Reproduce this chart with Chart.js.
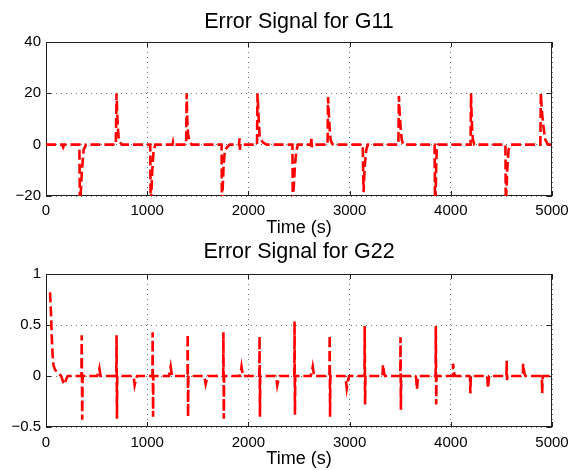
<!DOCTYPE html>
<html>
<head>
<meta charset="utf-8">
<script src="https://cdn.jsdelivr.net/npm/chart.js@4"></script>
<style>
  body { margin: 0; background: #fff; }
  .panel { position: absolute; left: 0; width: 576px; }
  #topPanel { top: 0; height: 242px; }
  #bottomPanel { top: 230px; height: 240px; }
</style>
</head>
<body>
<div class="panel" id="topPanel"><canvas id="g11Chart"></canvas></div>
<div class="panel" id="bottomPanel"><canvas id="g22Chart"></canvas></div>
<script>
// Error signal for G11 (time in s, error value)
const g11Time = [
    0, 160, 170, 180, 330, 336, 342, 355, 372, 395,
    690, 697, 704, 711, 718, 730, 750,
    1030, 1035, 1040, 1050, 1062, 1080,
    1250, 1255, 1260,
    1385, 1390, 1394, 1399, 1404, 1420, 1440,
    1735, 1739, 1743, 1755, 1768, 1790, 1815,
    1908, 1912, 1916, 1920,
    2085, 2090, 2097, 2104, 2112, 2140, 2180,
    2435, 2440, 2443, 2460, 2475, 2490,
    2618, 2622, 2626, 2630,
    2782, 2787, 2795, 2805, 2812, 2825, 2840,
    3130, 3138, 3150, 3165, 3180,
    3482, 3487, 3495, 3505, 3515, 3530,
    3840, 3845, 3850, 3856, 3861, 3875,
    4195, 4200, 4205, 4211, 4218, 4232,
    4540, 4544, 4548, 4560, 4571, 4590,
    4885, 4890, 4898, 4910, 4922, 4934, 4960, 5000
];
const g11Error = [
    0, 0, -1, 0, 0, -30, -20, -10, -2, 0,
    0, 20, 12, 6, 3, 1, 0,
    0, -30, -20, -10, -3, 0,
    0, 1, 0,
    0, 20, 12, 7, 4, 1, 0,
    0, -30, -20, -8, -2, -1, 0,
    0, 2.5, -2, 0,
    0, 20, 14, 8, 3, 1, 0,
    0, -30, -20, -8, -2, 0,
    0, 3, -1, 0,
    0, 18.5, 12, 5, 2, 0.5, 0,
    0, -18.5, -8, -2, 0,
    0, 19, 12, 6, 2, 0,
    0, -30, -20, -8, -2, 0,
    0, 20, 12, 6, 2, 0,
    0, -30, -20, -8, -2, 0,
    0, 20, 14, 9, 5, 2, 0, 0
];

// Error signal for G22
const g22Time = [
    40, 50, 58, 66, 75, 90, 120, 150, 170, 185, 200, 215,
    350, 353, 358, 362,
    505, 520, 528, 538,
    695, 697, 701, 704,
    855, 868, 876, 888, 900,
    1052, 1054, 1058, 1061,
    1215, 1225, 1232, 1245,
    1398, 1400, 1404, 1407,
    1560, 1570, 1578, 1590, 1600,
    1751, 1753, 1757, 1760,
    1915, 1925, 1932, 1945,
    2108, 2110, 2114, 2117,
    2265, 2278, 2285, 2298, 2310,
    2454, 2456, 2460, 2463,
    2615, 2628, 2636, 2650,
    2801, 2803, 2807, 2810,
    2950, 2962, 2972, 2985, 2995,
    3147, 3149, 3153, 3156,
    3325, 3330, 3342, 3350,
    3501, 3503, 3507, 3510,
    3650, 3658, 3665, 3675, 3685,
    3850, 3852, 3856, 3859,
    4020, 4022, 4035, 4045,
    4185, 4190, 4193, 4198,
    4360, 4368, 4378,
    4550, 4552, 4556, 4559,
    4712, 4715, 4728, 4738,
    4895, 4900, 4903, 4908, 5000
];
const g22Error = [
    0.82, 0.6, 0.35, 0.2, 0.1, 0.06, 0.03, 0, -0.06, -0.08, -0.03, 0,
    0, 0.40, -0.43, 0,
    0, 0.03, 0.07, 0,
    0, 0.40, -0.42, 0,
    0, -0.02, -0.09, -0.04, 0,
    0, 0.43, -0.40, 0,
    0, 0.05, 0.09, 0,
    0, 0.41, -0.40, 0,
    0, -0.03, -0.08, -0.03, 0,
    0, 0.43, -0.42, 0,
    0, 0.04, 0.09, 0,
    0, 0.39, -0.40, 0,
    0, -0.03, -0.09, -0.03, 0,
    0, 0.535, -0.38, 0,
    0, 0.04, 0.09, 0,
    0, 0.40, -0.40, 0,
    0, -0.03, -0.12, -0.04, 0,
    0, 0.49, -0.28, 0,
    0, 0.11, 0.02, 0,
    0, 0.38, -0.33, 0,
    0, -0.02, -0.13, -0.03, 0,
    0, 0.49, -0.28, 0,
    0, 0.12, 0.02, 0,
    0, -0.01, -0.17, 0,
    0, -0.12, 0,
    0, 0.15, -0.04, 0,
    0, 0.12, 0.02, 0,
    0, -0.01, -0.17, 0, 0
];

const timeTicks = [0, 1000, 2000, 3000, 4000, 5000];

const fontFamily = '"Liberation Sans", Arial, Helvetica, sans-serif';

// matlab style box with inward tick marks
const boxFrame = {
    id: 'boxFrame',
    beforeDatasetsDraw(chart) {
        const {ctx, chartArea: a, scales} = chart;
        ctx.save();
        ctx.strokeStyle = '#222';
        ctx.lineWidth = 1;
        ctx.strokeRect(a.left + 0.5, a.top + 0.5, a.right - a.left - 1, a.bottom - a.top - 1);
        ctx.beginPath();
        scales.x.ticks.forEach(t => {
            const px = Math.round(scales.x.getPixelForValue(t.value)) + 0.5;
            ctx.moveTo(px, a.bottom); ctx.lineTo(px, a.bottom - 5);
            ctx.moveTo(px, a.top); ctx.lineTo(px, a.top + 5);
        });
        scales.y.ticks.forEach(t => {
            const py = Math.round(scales.y.getPixelForValue(t.value)) + 0.5;
            ctx.moveTo(a.left, py); ctx.lineTo(a.left + 5, py);
            ctx.moveTo(a.right, py); ctx.lineTo(a.right - 5, py);
        });
        ctx.stroke();
        ctx.restore();
    }
};

function makeErrorChart(canvasId, opts) {
    const points = opts.time.map((t, i) => ({x: t, y: opts.values[i]}));
    return new Chart(document.getElementById(canvasId), {
        type: 'line',
        data: {
            datasets: [{
                data: points,
                borderColor: '#ff0000',
                borderWidth: 2.6,
                borderDash: [10, 4],
                pointRadius: 0,
                tension: 0,
                fill: false,
                clip: 0
            }]
        },
        options: {
            responsive: true,
            maintainAspectRatio: false,
            animation: false,
            layout: {
                padding: {left: 0, right: 24, top: 0, bottom: 0}
            },
            plugins: {
                legend: { display: false },
                tooltip: { enabled: false },
                title: {
                    display: true,
                    fullSize: false,
                    text: opts.title,
                    color: '#000',
                    font: { family: fontFamily, size: 21.5, weight: 'normal' },
                    padding: opts.titlePadding
                }
            },
            scales: {
                x: {
                    type: 'linear',
                    min: 0,
                    max: 5000,
                    afterBuildTicks: axis => {
                        axis.ticks = timeTicks.map(v => ({value: v}));
                    },
                    afterFit: axis => { axis.height = opts.xHeight; },
                    ticks: {
                        color: '#000',
                        padding: opts.xTickPad,
                        maxRotation: 0,
                        font: { family: fontFamily, size: 15 },
                        callback: v => String(v)
                    },
                    grid: {
                        drawTicks: false,
                        color: 'rgba(0,0,0,0.55)',
                        lineWidth: 1
                    },
                    border: { display: false, dash: [1, 4] },
                    title: {
                        display: true,
                        text: 'Time (s)',
                        color: '#000',
                        font: { family: fontFamily, size: 18 },
                        padding: { top: 0, bottom: opts.xTitlePad }
                    }
                },
                y: {
                    min: opts.yMin,
                    max: opts.yMax,
                    afterBuildTicks: axis => {
                        axis.ticks = opts.yTicks.map(v => ({value: v}));
                    },
                    afterFit: axis => { axis.width = 46; },
                    ticks: {
                        color: '#000',
                        padding: 5,
                        font: { family: fontFamily, size: 15 },
                        callback: v => String(v).replace('-', '\u2212')
                    },
                    grid: {
                        drawTicks: false,
                        color: 'rgba(0,0,0,0.55)',
                        lineWidth: 1
                    },
                    border: { display: false, dash: [1, 4] }
                }
            }
        },
        plugins: [boxFrame]
    });
}

makeErrorChart('g11Chart', {
    title: 'Error Signal for G11',
    time: g11Time,
    values: g11Error,
    yMin: -20,
    yMax: 40,
    yTicks: [-20, 0, 20, 40],
    titlePadding: { top: 9, bottom: 7.2 },
    xHeight: 46,
    xTickPad: 5.6,
    xTitlePad: 3
});

makeErrorChart('g22Chart', {
    title: 'Error Signal for G22',
    time: g22Time,
    values: g22Error,
    yMin: -0.5,
    yMax: 1,
    yTicks: [-0.5, 0, 0.5, 1],
    titlePadding: { top: 9.4, bottom: 8.8 },
    xHeight: 43,
    xTickPad: 6.6,
    xTitlePad: 0
});
</script>
</body>
</html>
